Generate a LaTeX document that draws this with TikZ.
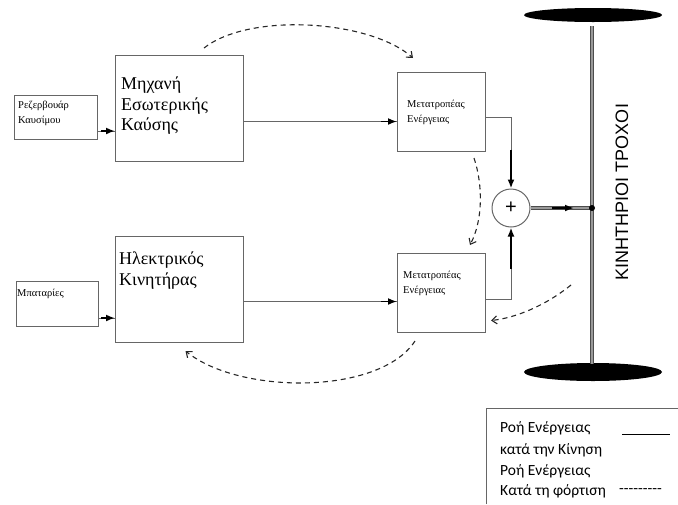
\documentclass[tikz,border=0pt]{standalone}
\usepackage{fontspec}
\setmainfont{Liberation Serif}
\newfontfamily\legfont{Carlito}
\newfontfamily\labfont{Liberation Sans}
\usetikzlibrary{arrows.meta,calc,shapes.geometric}
\begin{document}
\begin{tikzpicture}[x=1pt,y=-1pt,
  box/.style={draw=black!60, line width=1pt, anchor=north west, inner sep=0pt},
  conn/.style={draw=black!60, line width=1pt},
  headarr/.style={draw=black, line width=1.8pt, -{Latex[length=9pt,width=7pt]}},
  dasharr/.style={draw=black!85, line width=1.1pt, dash pattern=on 5pt off 4pt, -{Straight Barb[length=5pt,width=8pt]}},
  bigtxt/.style={anchor=north west, inner sep=0pt, align=left, font=\fontsize{18}{20.5}\selectfont},
  smalltxt/.style={anchor=north west, inner sep=0pt, align=left, font=\fontsize{10.5}{14.5}\selectfont},
  legtxt/.style={anchor=west, inner sep=0pt, font=\legfont\fontsize{15.5}{16}\selectfont},
  axle/.style={draw=black!70, line width=1.2pt, double=black!40, double distance=2pt}
]
\useasboundingbox (0,0) rectangle (678,504);

% boxes
\node[box, minimum width=83pt, minimum height=44pt] (res) at (14,95) {};
\node[box, minimum width=128pt, minimum height=106pt] (ice) at (115,55) {};
\node[box, minimum width=88pt, minimum height=79pt] (uconv) at (397,72) {};
\node[box, minimum width=88pt, minimum height=79pt] (lconv) at (397,253) {};
\node[box, minimum width=128pt, minimum height=106pt] (motor) at (115,236) {};
\node[box, minimum width=82pt, minimum height=45pt] (bat) at (16,281) {};
\node[draw=black!60, line width=1pt, circle, minimum size=38pt, inner sep=0pt] (sum) at (511,208) {\labfont\fontsize{20}{20}\selectfont +};

% texts
\node[smalltxt] (restxt) at (18,101) {Ρεζερβουάρ\\Καυσίμου};
\node[bigtxt] (icetxt) at (121,77) {Μηχανή\\Εσωτερικής\\Καύσης};
\node[smalltxt] (utxt) at (407,100) {Μετατροπέας\\Ενέργειας};
\node[smalltxt] (ltxt) at (403,271) {Μετατροπέας\\Ενέργειας};
\node[bigtxt] (mtxt) at (119,252) {Ηλεκτρικός\\Κινητήρας};
\node[smalltxt] (battxt) at (17,289) {Μπαταρίες};

% wheels and axle
\node[ellipse, fill=black, minimum width=138pt, minimum height=14pt, inner sep=0pt] (wtop) at (593,15) {};
\node[ellipse, fill=black, minimum width=138pt, minimum height=18pt, inner sep=0pt] (wbot) at (593,372) {};
\coordinate (axtop) at (592,26);
\coordinate (axbot) at (592,364);
\coordinate (J) at (592,208);
\draw[axle] (axtop) -- (axbot);
\node[rotate=90, font=\labfont\fontsize{18}{18}\selectfont, inner sep=0pt] (wlabel) at (622,192) {ΚΙΝΗΤΗΡΙΟΙ ΤΡΟΧΟΙ};

% solid connectors
\coordinate (a1) at ([yshift=9pt]res.south east);
\draw[conn] (a1) -- (a1 -| ice.west);
\draw[headarr] ($(a1 -| ice.west)+(-14,0)$) -- (a1 -| ice.west);

\coordinate (a2) at ([yshift=-13pt]ice.east);
\draw[conn] (a2) -- (a2 -| uconv.west);
\draw[headarr] ($(a2 -| uconv.west)+(-16,0)$) -- (a2 -| uconv.west);

\coordinate (a3) at ([yshift=-5.5pt]uconv.east);
\draw[conn] (a3) -| ($(sum.north)+(0,-39)$);
\draw[headarr] ($(sum.north)+(0,-39)$) -- (sum.north);

\coordinate (a4) at ([yshift=-6.5pt]lconv.east);
\draw[conn] (a4) -| ($(sum.south)+(0,41)$);
\draw[headarr] ($(sum.south)+(0,41)$) -- (sum.south);

\coordinate (a5) at ([yshift=-12pt]motor.east);
\draw[conn] (a5) -- (a5 -| lconv.west);
\draw[headarr] ($(a5 -| lconv.west)+(-16,0)$) -- (a5 -| lconv.west);

\coordinate (a6) at ([yshift=9pt]bat.south east);
\draw[conn] (a6) -- (a6 -| motor.west);
\draw[headarr] ($(a6 -| motor.west)+(-14,0)$) -- (a6 -| motor.west);

\draw[axle] (sum.east) -- (J);
\draw[-{Latex[length=9pt,width=7pt]}, line width=1.8pt] ($(J)+(-40,0)$) -- ($(J)+(-18,0)$);
\fill (J) circle (3pt);

% dashed (charging) flows
\coordinate (d1s) at ($(ice.north east)+(-40,-7)$);
\coordinate (d1e) at ($(uconv.north west)+(16,-14)$);
\draw[dasharr] (d1s) .. controls (250,12) and (370,20) .. (d1e);

\coordinate (d2s) at ($(uconv.south east)+(-12,6)$);
\coordinate (d2e) at ($(lconv.north east)+(-16,-8)$);
\draw[dasharr] (d2s) .. controls (483,185) and (483,220) .. (d2e);

\coordinate (d3s) at ($(J)+(-21,77)$);
\coordinate (d3e) at ($(lconv.east)+(5,27.5)$);
\draw[dasharr] (d3s) .. controls (545,306) and (515,318) .. (d3e);

\coordinate (d4s) at ($(lconv.south west)+(18,8)$);
\coordinate (d4e) at ($(motor.south)+(6,8)$);
\draw[dasharr] (d4s) .. controls (380,395) and (240,395) .. (d4e);

% legend
\coordinate (lg) at (486,408);
\draw[conn] (486,504) -- (lg) -- (678,408);
\node[legtxt] (l1) at (500,428) {Ροή Ενέργειας};
\node[legtxt] (l2) at (500,450) {κατά την Κίνηση};
\node[legtxt] (l3) at (500,471) {Ροή Ενέργειας};
\node[legtxt] (l4) at (500,491) {Κατά τη φόρτιση};
\coordinate (ls1) at (622,434);
\coordinate (ls2) at (670,434);
\draw[black, line width=0.8pt] (ls1) -- (ls2);
\node[legtxt] (l5) at (619,491) {-{}-{}-{}-{}-{}-{}-{}-{}-};
\end{tikzpicture}
\end{document}
